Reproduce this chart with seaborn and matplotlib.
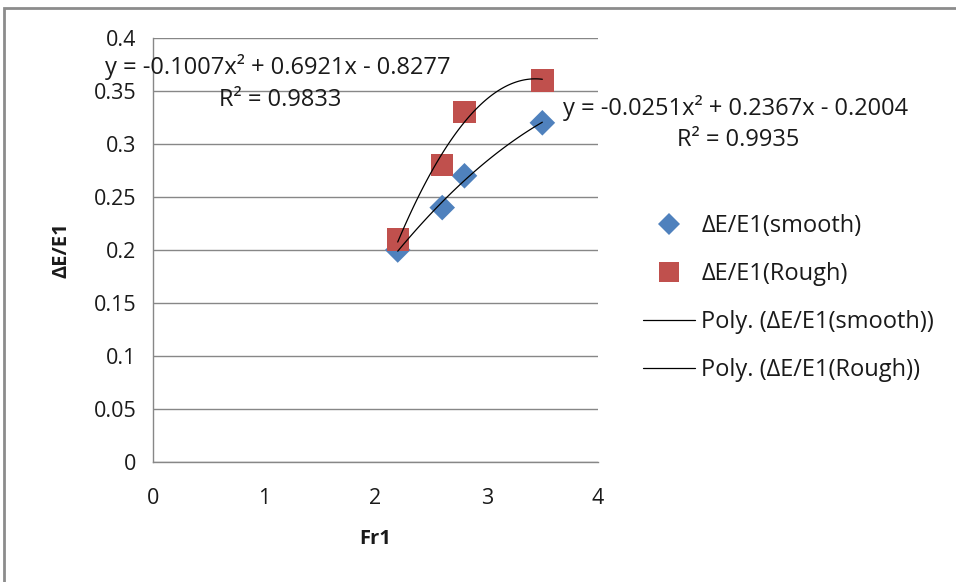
import matplotlib
matplotlib.use("Agg")
import matplotlib.pyplot as plt
import seaborn as sns
import numpy as np
import pandas as pd
from matplotlib.patches import Rectangle
from matplotlib.lines import Line2D

# ---- data ----
fr1 = [2.2, 2.6, 2.8, 3.5]
smooth = [0.20, 0.24, 0.27, 0.32]
rough = [0.21, 0.28, 0.33, 0.36]
coef_smooth = [-0.0251, 0.2367, -0.2004]
coef_rough = [-0.1007, 0.6921, -0.8277]
r2_smooth = 0.9935
r2_rough = 0.9833
xticks = [0, 1, 2, 3, 4]
yticks = [0, 0.05, 0.1, 0.15, 0.2, 0.25, 0.3, 0.35, 0.4]
ytick_labels = ["0", "0.05", "0.1", "0.15", "0.2", "0.25", "0.3", "0.35", "0.4"]

sns.set_style("white")
plt.rcParams['font.family'] = ['Open Sans', 'DejaVu Sans']

BLUE = "#4F81BD"
RED = "#C0504D"
GRID = "#878787"
TXT = "#1a1a1a"

fig = plt.figure(figsize=(9.56, 5.82), dpi=100)
ax = fig.add_axes([0.160, 0.2062, 0.4655, 0.7285])

# trendlines
xs = np.linspace(min(fr1), max(fr1), 100)
df_tr = pd.DataFrame({
    "x": np.concatenate([xs, xs]),
    "y": np.concatenate([np.polyval(coef_smooth, xs), np.polyval(coef_rough, xs)]),
    "s": ["smooth"] * len(xs) + ["rough"] * len(xs),
})

df_s = pd.DataFrame({"x": fr1, "y": smooth})
df_r = pd.DataFrame({"x": fr1, "y": rough})
sns.scatterplot(data=df_s, x="x", y="y", marker="D", s=170, color=BLUE,
                edgecolor="none", ax=ax, zorder=3, legend=False)
sns.scatterplot(data=df_r, x="x", y="y", marker="s", s=260, color=RED,
                edgecolor="none", ax=ax, zorder=3, legend=False)
sns.lineplot(data=df_tr, x="x", y="y", units="s", estimator=None, color="black",
             lw=0.9, ax=ax, zorder=4, legend=False)

ax.set_xlim(0, 4)
ax.set_ylim(0, 0.4)
ax.set_xticks(xticks)
ax.set_xticklabels([str(t) for t in xticks])
ax.set_yticks(yticks)
ax.set_yticklabels(ytick_labels)
ax.yaxis.grid(True, color=GRID, lw=1)
ax.xaxis.grid(False)
for sp in ["top", "right"]:
    ax.spines[sp].set_visible(False)
for sp in ["left", "bottom"]:
    ax.spines[sp].set_color(GRID)
    ax.spines[sp].set_linewidth(1)
ax.tick_params(axis="both", which="major", direction="out", length=6, width=1,
               color=GRID, labelsize=15.5, labelcolor=TXT, pad=6)
ax.tick_params(axis="x", pad=13)
ax.set_xlabel("Fr1", fontsize=14.5, fontweight="bold", labelpad=14, color=TXT)
ax.set_ylabel("ΔE/E1", fontsize=14.5, fontweight="bold", labelpad=16, color=TXT)
ax.set_axisbelow(True)

# equations
FS = 17
fig.text(105 / 956, 1 - 67 / 582, "y = -0.1007x² + 0.6921x - 0.8277", fontsize=FS,
         ha="left", va="center", color=TXT)
fig.text(280 / 956, 1 - 100 / 582, "R² = 0.9833", fontsize=FS,
         ha="center", va="center", color=TXT)
fig.text(563 / 956, 1 - 108 / 582, "y = -0.0251x² + 0.2367x - 0.2004", fontsize=FS,
         ha="left", va="center", color=TXT)
fig.text(738 / 956, 1 - 140 / 582, "R² = 0.9935", fontsize=FS,
         ha="center", va="center", color=TXT)

# legend
handles = [
    Line2D([], [], marker="D", color=BLUE, lw=0, markersize=11, markeredgewidth=0),
    Line2D([], [], marker="s", color=RED, lw=0, markersize=14, markeredgewidth=0),
    Line2D([], [], color="black", lw=0.9),
    Line2D([], [], color="black", lw=0.9),
]
labels = ["ΔE/E1(smooth)", "ΔE/E1(Rough)", "Poly. (ΔE/E1(smooth))", "Poly. (ΔE/E1(Rough))"]
leg = fig.legend(handles, labels, loc="upper left", bbox_to_anchor=(0.673, 0.632),
                 frameon=False, fontsize=FS, handlelength=2.2, handletextpad=0.25,
                 labelspacing=1.02, borderaxespad=0, borderpad=0)
for t in leg.get_texts():
    t.set_color(TXT)

# chart frame
fig.patches.append(Rectangle((4 / 956, 0 - 0.05), 1.1, 1 - 8 / 582 + 0.05,
                             transform=fig.transFigure, fill=False,
                             edgecolor="#8C8C8C", lw=2, zorder=10))

fig.savefig("out.png", dpi=100)
